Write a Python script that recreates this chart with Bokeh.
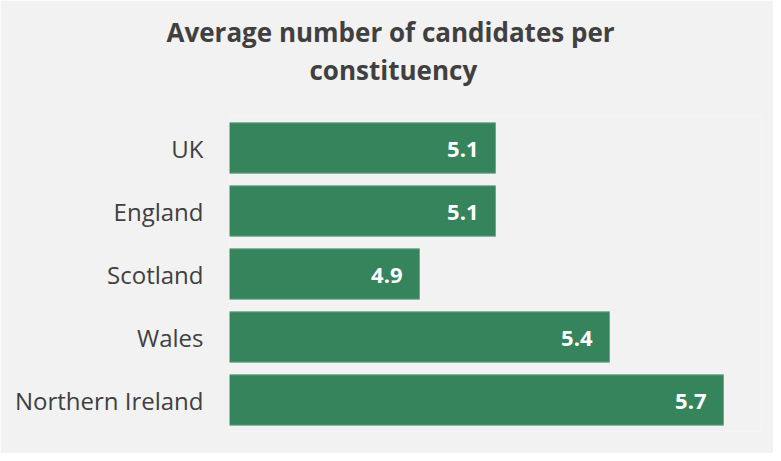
from bokeh.plotting import figure
from bokeh.models import Range1d, FactorRange, Title, ColumnDataSource
from bokeh.core.properties import value
from bokeh.embed import file_html
from bokeh.resources import INLINE

# Data
categories = ["UK", "England", "Scotland", "Wales", "Northern Ireland"]
values = [5.1, 5.1, 4.9, 5.4, 5.7]
labels = ["5.1", "5.1", "4.9", "5.4", "5.7"]
title_lines = ["Average number of candidates per", "constituency"]

BG = "#f2f2f2"
GREEN = "#35845c"
TXT = "#404040"
FONT = "Open Sans"

src = ColumnDataSource(dict(cat=categories, val=values, lab=labels))

p = figure(
    width=773, height=453,
    y_range=FactorRange(factors=list(reversed(categories))),
    x_range=Range1d(4.4, 5.8),
    output_backend="svg", toolbar_location=None,
    min_border_left=229, min_border_right=12,
    min_border_top=116, min_border_bottom=22,
)
p.background_fill_color = BG
p.border_fill_color = BG
p.outline_line_color = None
p.xgrid.visible = False
p.ygrid.visible = False
p.xaxis.visible = False

p.hbar(y="cat", left=4.4, right="val", height=0.8, source=src,
       fill_color=GREEN, line_color="#6fa88a", line_width=1)

p.text(x="val", y="cat", text="lab", source=src, x_offset=-17, y_offset=1,
       text_align="right", text_baseline="middle", text_color="white",
       text_font=value(FONT), text_font_style="bold", text_font_size="22px")

ax = p.yaxis[0]
ax.axis_line_color = None
ax.major_tick_line_color = None
ax.minor_tick_line_color = None
ax.major_tick_out = 0
ax.major_tick_in = 0
ax.major_label_standoff = 26
ax.major_label_text_font = FONT
ax.major_label_text_font_size = "24px"
ax.major_label_text_color = TXT

# spacer between title block and plot
p.add_layout(Title(text=" ", text_font_size="1px", standoff=26,
                   text_color=BG), "above")

# Title lines: bottom line first (closest to the plot)
offsets = [-63, 80]
for line, off in reversed(list(zip(title_lines, offsets))):
    p.add_layout(Title(text=line, align="left", offset=off,
                       text_font=FONT, text_font_style="bold", text_font_size="26px",
                       text_color=TXT, standoff=0), "above")

open("out.html", "w").write(file_html(p, INLINE))
